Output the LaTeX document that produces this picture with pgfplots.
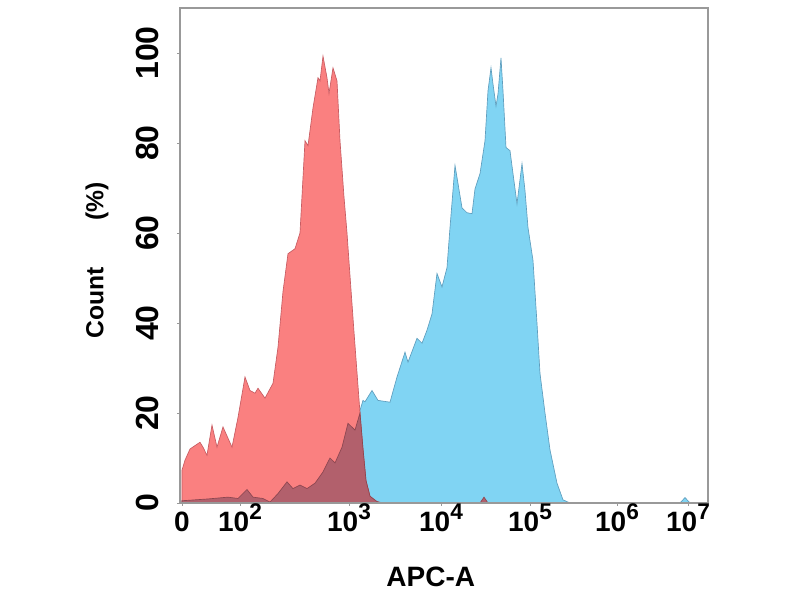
\documentclass[border=0pt]{standalone}
\usepackage{pgfplots}
\pgfplotsset{compat=1.18}
\usepackage{fontspec}
\setmainfont{Liberation Sans}

\definecolor{redfill}{RGB}{250,128,128}
\definecolor{rededge}{RGB}{200,92,98}
\definecolor{bluefill}{RGB}{128,212,243}
\definecolor{blueedge}{RGB}{95,158,190}
\definecolor{mauve}{RGB}{178,96,108}
\definecolor{mauveedge}{RGB}{140,70,80}

% exponent of the biexponential tick labels
\newcommand\ex[1]{\raisebox{0.42em}{\fontsize{17}{17}\selectfont #1}}

\begin{document}
\begin{tikzpicture}
\begin{axis}[
  width=396pt, height=371.25pt, scale only axis,
  xmin=180, xmax=708, ymin=0, ymax=110,
  axis line style={draw=gray!80, line width=0.8pt},
  xtick={182,240,349,441,530,617,688},
  xticklabels={0,10\ex{2},10\ex{3},10\ex{4},10\ex{5},10\ex{6},10\ex{7}},
  ytick={0,20,40,60,80,100},
  yticklabels={0,20,40,60,80,100},
  tick pos=left,
  tick align=outside,
  major tick length=2pt,
  tick style={gray!80, line width=0.6pt},
  xticklabel style={font=\fontsize{21}{21}\selectfont\bfseries, anchor=base, yshift=-19pt},
  yticklabel style={font=\fontsize{24}{24}\selectfont\bfseries, xshift=-14pt, rotate=90, anchor=base},
  xlabel={APC-A},
  ylabel={Count\hspace{1.9em}(\%)},
  xlabel style={font=\fontsize{21}{21}\selectfont\bfseries, at={(axis description cs:0.475,-0.1495)}, anchor=center},
  ylabel style={font=\fontsize{18.5}{18.5}\selectfont\bfseries, at={(axis description cs:-0.157,0.49)}, anchor=center},
  axis on top,
]
% stained sample
\addplot[fill=bluefill, draw=blueedge, line width=0.5pt] coordinates {
  (182,0) (182,0.5) (208,0.9) (228,1.3) (238,1) (247,3) (253,1.3) (263,1)
  (270,0.2) (278,2.1) (287,4.7) (293,3.2) (300,4) (307,3.2) (315,4.4)
  (323,6.9) (330,10) (335,8.9) (342,12.4) (348,17.7) (355,16.2) (360,20.6)
  (363,22.8) (365,22.5) (372,25) (378,22.8) (390,22.4) (397,28) (405,33.5)
  (408,31.3) (417,36.6) (422,35.5) (427,38.4) (432,42) (437,51) (442,48)
  (447,52.3) (450,61.2) (455,75) (458,71) (462,65.6) (467,64.5) (472,64.3)
  (475,69.8) (480,73.2) (485,80.5) (488,91.6) (491,96.7) (493,93.1)
  (496,88.2) (498,90.9) (501,98.9) (503,91.6) (506,79) (510,78.3) (513,73.2)
  (517,66.5) (522,75.4) (525,69.4) (528,61.2) (533,53.9) (537,39.9)
  (540,28.8) (545,20) (550,11.8) (557,4.4) (563,0.7) (570,0)
  (680,0) (685,1.2) (690,0)
} \closedcycle;
% control
\addplot[fill=redfill, draw=rededge, line width=0.5pt] coordinates {
  (182,0) (182,7.3) (185,9.5) (190,12) (200,13.5) (203,12.4) (207,10.6)
  (212,17.3) (217,12.4) (223,16.9) (232,12.4) (238,19) (245,28) (250,25)
  (255,24.4) (258,25.5) (265,23.3) (273,26.6) (278,34.6) (283,47) (288,55.4)
  (295,56.5) (300,60) (305,80.5) (308,79.4) (313,87.8) (318,94.5) (320,93.8)
  (323,99.3) (327,94.5) (329,91) (333,96.7) (337,93.8) (340,80.5) (344,68)
  (347,60) (350,50.5) (354,38) (357,29) (360,20) (363,12) (366,5) (370,1.5)
  (377,0.3) (383,0)
} \closedcycle;
% overlap of the two histograms
\addplot[fill=mauve, draw=mauveedge, line width=0.5pt] coordinates {
  (182,0) (182,0.5) (208,0.9) (228,1.3) (238,1) (247,3) (253,1.3) (263,1)
  (270,0.2) (278,2.1) (287,4.7) (293,3.2) (300,4) (307,3.2) (315,4.4)
  (323,6.9) (330,10) (335,8.9) (342,12.4) (348,17.7) (355,16.2) (360,20)
  (363,12) (366,5) (370,1.5) (377,0.3) (383,0)
} \closedcycle;
\addplot[fill=mauve, draw=mauveedge, line width=0.5pt] coordinates {
  (480,0) (484,1.3) (488,0)
} \closedcycle;
\end{axis}
\path[use as bounding box] ([xshift=-135pt,yshift=-72.75pt]current axis.south west)
  rectangle ([xshift=69pt,yshift=6pt]current axis.north east);
\end{tikzpicture}
\end{document}
